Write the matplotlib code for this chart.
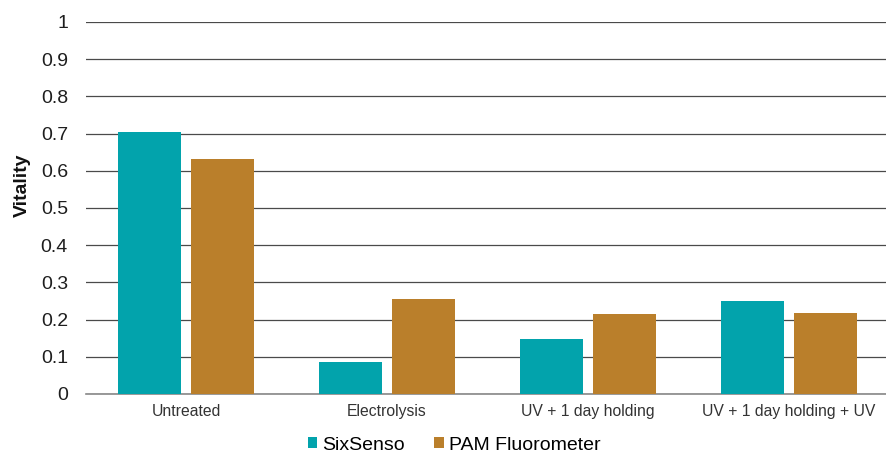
import matplotlib
matplotlib.use("Agg")
import matplotlib.pyplot as plt
import numpy as np

categories = ["Untreated", "Electrolysis", "UV + 1 day holding", "UV + 1 day holding + UV"]
sixsenso = [0.705, 0.085, 0.149, 0.249]
pam = [0.632, 0.255, 0.215, 0.217]
series_names = ["SixSenso", "PAM Fluorometer"]
yticks = [0, 0.1, 0.2, 0.3, 0.4, 0.5, 0.6, 0.7, 0.8, 0.9, 1]
ytick_labels = ["0", "0.1", "0.2", "0.3", "0.4", "0.5", "0.6", "0.7", "0.8", "0.9", "1"]

plt.rcParams["font.family"] = ["Liberation Sans", "DejaVu Sans"]

teal = "#02A3AC"
brown = "#BA7F2B"

fig = plt.figure(figsize=(8.87, 4.53), dpi=100)
ax = fig.add_axes([86 / 887, 1 - 394 / 453, (887 - 86) / 887, (394 - 22) / 453])

x = np.arange(len(categories))
w = 0.313
off = 0.182
ax.bar(x - off, sixsenso, w, color=teal, label=series_names[0], zorder=3)
ax.bar(x + off, pam, w, color=brown, label=series_names[1], zorder=3)

ax.set_ylim(0, 1)
ax.set_xlim(-0.4975, 3.4876)
ax.set_yticks(yticks)
ax.set_yticklabels(ytick_labels, fontsize=14, color="#1e1e1e")
ax.set_xticks(x)
ax.set_xticklabels(categories, fontsize=11.3, color="#333333")
ax.tick_params(axis="both", length=0)
ax.tick_params(axis="y", pad=13)
ax.tick_params(axis="x", pad=7)

ax.grid(axis="y", color="#4a4a4a", linewidth=0.9, zorder=0)
for s in ["top", "right", "left"]:
    ax.spines[s].set_visible(False)
ax.spines["bottom"].set_color("#888888")
ax.spines["bottom"].set_linewidth(1.2)

ax.set_ylabel("Vitality", fontsize=14, fontweight="bold", color="#111111")
ax.yaxis.set_label_coords(-0.0687, 0.562)

fig.legend(loc="center", bbox_to_anchor=(454 / 887, 1 - 445 / 453), ncol=2,
           frameon=False, fontsize=14, handlelength=0.5, handleheight=0.5,
           handletextpad=0.25, columnspacing=1.5)

fig.savefig("out.png", dpi=100)
